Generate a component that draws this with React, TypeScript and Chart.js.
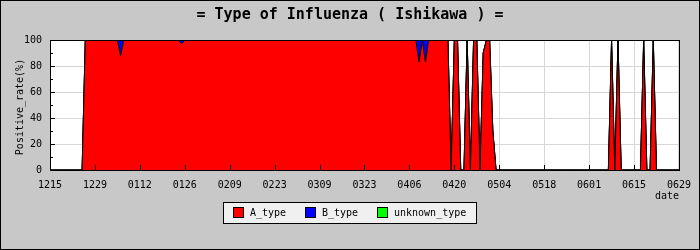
import React, { useEffect, useRef } from "react";
import { Chart, registerables } from "chart.js";

Chart.register(...registerables);

const chartTitle = "= Type of Influenza ( Ishikawa ) =";
const yAxisTitle = "Positive_rate(%)";
const xAxisTitle = "date";

// tick labels every 14 days, from 12/15 to 06/29
const tickLabels = ["1215", "1229", "0112", "0126", "0209", "0223", "0309", "0323", "0406", "0420", "0504", "0518", "0601", "0615", "0629"];

// daily values (%), day 0 = 12/15 ... day 196 = 06/29
const aType = [
  0, 0, 0, 0, 0, 0, 0, 0, 0, 0, 0, 100, 100, 100,
  100, 100, 100, 100, 100, 100, 100, 100, 88, 100, 100, 100, 100, 100,
  100, 100, 100, 100, 100, 100, 100, 100, 100, 100, 100, 100, 100, 97,
  100, 100, 100, 100, 100, 100, 100, 100, 100, 100, 100, 100, 100, 100,
  100, 100, 100, 100, 100, 100, 100, 100, 100, 100, 100, 100, 100, 100,
  100, 100, 100, 100, 100, 100, 100, 100, 100, 100, 100, 100, 100, 100,
  100, 100, 100, 100, 100, 100, 100, 100, 100, 100, 100, 100, 100, 100,
  100, 100, 100, 100, 100, 100, 100, 100, 100, 100, 100, 100, 100, 100,
  100, 100, 100, 83, 100, 83, 100, 100, 100, 100, 100, 100, 100, 0,
  100, 100, 0, 0, 100, 0, 100, 100, 0, 90, 100, 100, 30, 0,
  0, 0, 0, 0, 0, 0, 0, 0, 0, 0, 0, 0, 0, 0,
  0, 0, 0, 0, 0, 0, 0, 0, 0, 0, 0, 0, 0, 0,
  0, 0, 0, 0, 0, 0, 0, 100, 0, 100, 0, 0, 0, 0,
  0, 0, 0, 100, 0, 0, 100, 0, 0, 0, 0, 0, 0, 0,
  0,
];

const bType = [
  0, 0, 0, 0, 0, 0, 0, 0, 0, 0, 0, 0, 0, 0,
  0, 0, 0, 0, 0, 0, 0, 0, 12, 0, 0, 0, 0, 0,
  0, 0, 0, 0, 0, 0, 0, 0, 0, 0, 0, 0, 0, 3,
  0, 0, 0, 0, 0, 0, 0, 0, 0, 0, 0, 0, 0, 0,
  0, 0, 0, 0, 0, 0, 0, 0, 0, 0, 0, 0, 0, 0,
  0, 0, 0, 0, 0, 0, 0, 0, 0, 0, 0, 0, 0, 0,
  0, 0, 0, 0, 0, 0, 0, 0, 0, 0, 0, 0, 0, 0,
  0, 0, 0, 0, 0, 0, 0, 0, 0, 0, 0, 0, 0, 0,
  0, 0, 0, 17, 0, 17, 0, 0, 0, 0, 0, 0, 0, 0,
  0, 0, 0, 0, 0, 0, 0, 0, 0, 0, 0, 0, 0, 0,
  0, 0, 0, 0, 0, 0, 0, 0, 0, 0, 0, 0, 0, 0,
  0, 0, 0, 0, 0, 0, 0, 0, 0, 0, 0, 0, 0, 0,
  0, 0, 0, 0, 0, 0, 0, 0, 0, 0, 0, 0, 0, 0,
  0, 0, 0, 0, 0, 0, 0, 0, 0, 0, 0, 0, 0, 0,
  0,
];

const unknownType = [
  0, 0, 0, 0, 0, 0, 0, 0, 0, 0, 0, 0, 0, 0,
  0, 0, 0, 0, 0, 0, 0, 0, 0, 0, 0, 0, 0, 0,
  0, 0, 0, 0, 0, 0, 0, 0, 0, 0, 0, 0, 0, 0,
  0, 0, 0, 0, 0, 0, 0, 0, 0, 0, 0, 0, 0, 0,
  0, 0, 0, 0, 0, 0, 0, 0, 0, 0, 0, 0, 0, 0,
  0, 0, 0, 0, 0, 0, 0, 0, 0, 0, 0, 0, 0, 0,
  0, 0, 0, 0, 0, 0, 0, 0, 0, 0, 0, 0, 0, 0,
  0, 0, 0, 0, 0, 0, 0, 0, 0, 0, 0, 0, 0, 0,
  0, 0, 0, 0, 0, 0, 0, 0, 0, 0, 0, 0, 0, 0,
  0, 0, 0, 0, 0, 0, 0, 0, 0, 0, 0, 0, 0, 0,
  0, 0, 0, 0, 0, 0, 0, 0, 0, 0, 0, 0, 0, 0,
  0, 0, 0, 0, 0, 0, 0, 0, 0, 0, 0, 0, 0, 0,
  0, 0, 0, 0, 0, 0, 0, 0, 0, 0, 0, 0, 0, 0,
  0, 0, 0, 0, 0, 0, 0, 0, 0, 0, 0, 0, 0, 0,
  0,
];

const seriesNames = ["A_type", "B_type", "unknown_type"];
const seriesColors = ["#ff0000", "#0000ff", "#00ff00"];

const MONO = "'DejaVu Sans Mono', monospace";

const decorPlugin = {
  id: "decor",
  beforeDraw(chart: any) {
    const { ctx, chartArea: a } = chart;
    ctx.save();
    ctx.fillStyle = "#c8c8c8";
    ctx.fillRect(0, 0, chart.width, chart.height);
    ctx.fillStyle = "#ffffff";
    ctx.fillRect(a.left, a.top, a.right - a.left, a.bottom - a.top);
    ctx.restore();
  },
  afterDatasetsDraw(chart: any) {
    const { ctx, chartArea: a, scales } = chart;
    ctx.save();
    ctx.strokeStyle = "#000";
    ctx.lineWidth = 1;
    ctx.beginPath();
    // bottom ticks (inward)
    scales.x.ticks.forEach((t: any) => {
      const px = Math.round(scales.x.getPixelForValue(t.value)) + 0.5;
      ctx.moveTo(px, a.bottom);
      ctx.lineTo(px, a.bottom - 5);
    });
    // left ticks (inward), major every 20, minor every 10
    for (let v = 0; v <= 100; v += 10) {
      const py = Math.round(scales.y.getPixelForValue(v)) + 0.5;
      const len = v % 20 === 0 ? 5 : 3;
      ctx.moveTo(a.left, py);
      ctx.lineTo(a.left + len, py);
    }
    ctx.stroke();
    ctx.strokeRect(Math.round(a.left) + 0.5, Math.round(a.top) + 0.5, Math.round(a.right - a.left), Math.round(a.bottom - a.top));
    ctx.restore();
  },
  afterDraw(chart: any) {
    const { ctx, chartArea: a } = chart;
    ctx.save();
    ctx.fillStyle = "#000";
    // title
    ctx.font = `bold 15px ${MONO}`;
    ctx.textAlign = "center";
    ctx.textBaseline = "alphabetic";
    ctx.fillText(chartTitle, 350, 19);
    // y title
    ctx.font = `10px ${MONO}`;
    ctx.save();
    ctx.translate(20, 107);
    ctx.rotate(-Math.PI / 2);
    ctx.textAlign = "center";
    ctx.textBaseline = "middle";
    ctx.fillText(yAxisTitle, 0, 0);
    ctx.restore();
    // x title
    ctx.textAlign = "right";
    ctx.textBaseline = "middle";
    ctx.fillText(xAxisTitle, a.right, 196);
    // legend
    ctx.fillStyle = "#f0f0f0";
    ctx.fillRect(223.5, 202.5, 253, 21);
    ctx.strokeStyle = "#000";
    ctx.lineWidth = 1;
    ctx.strokeRect(223.5, 202.5, 253, 21);
    const itemX = [233, 305, 377];
    chart.data.datasets.forEach((ds: any, i: number) => {
      ctx.fillStyle = ds.backgroundColor;
      ctx.fillRect(itemX[i] + 0.5, 207.5, 10, 10);
      ctx.strokeRect(itemX[i] + 0.5, 207.5, 10, 10);
      ctx.fillStyle = "#000";
      ctx.textAlign = "left";
      ctx.textBaseline = "middle";
      ctx.fillText(ds.label, itemX[i] + 17, 213);
    });
    // outer frame
    ctx.strokeRect(0.5, 0.5, chart.width - 1, chart.height - 1);
    ctx.restore();
  },
};

export default function App() {
  const ref = useRef<HTMLCanvasElement | null>(null);

  useEffect(() => {
    document.body.style.margin = "0";
    if (!ref.current) return;
    const dayIndex = aType.map((_, i) => i);
    const seriesData = [aType, bType, unknownType];
    const chart = new Chart(ref.current, {
      type: "line",
      data: {
        labels: dayIndex,
        datasets: seriesData.map((d, i) => ({
          label: seriesNames[i],
          data: d,
          backgroundColor: seriesColors[i],
          borderColor: "#000000",
          borderWidth: 1,
          pointRadius: 0,
          tension: 0,
          fill: i === 0 ? "origin" : "-1",
        })),
      },
      options: {
        responsive: false,
        animation: false,
        events: [],
        devicePixelRatio: 1,
        layout: { padding: { left: 0, right: 20, top: 40, bottom: 0 } },
        plugins: {
          legend: { display: false },
          title: { display: false },
          tooltip: { enabled: false },
        },
        font: { family: MONO, size: 10 },
        scales: {
          x: {
            type: "linear",
            min: 0,
            max: 196,
            afterFit: (s: any) => {
              s.height = 80;
            },
            ticks: {
              stepSize: 14,
              autoSkip: false,
              maxRotation: 0,
              padding: 9,
              color: "#000",
              font: { family: MONO, size: 10 },
              callback: (v: any) => tickLabels[Math.round(Number(v) / 14)] ?? "",
            },
            grid: { color: "#d8d8d8", drawTicks: false },
            border: { display: false },
          },
          y: {
            stacked: true,
            min: 0,
            max: 100,
            afterFit: (s: any) => {
              s.width = 50;
            },
            ticks: {
              stepSize: 20,
              padding: 8,
              color: "#000",
              font: { family: MONO, size: 10 },
            },
            grid: { color: "#d8d8d8", drawTicks: false },
            border: { display: false },
          },
        },
      } as any,
      plugins: [decorPlugin],
    });
    return () => chart.destroy();
  }, []);

  return (
    <div style={{ width: 700, height: 250 }}>
      <canvas ref={ref} width={700} height={250} style={{ display: "block" }} />
    </div>
  );
}
